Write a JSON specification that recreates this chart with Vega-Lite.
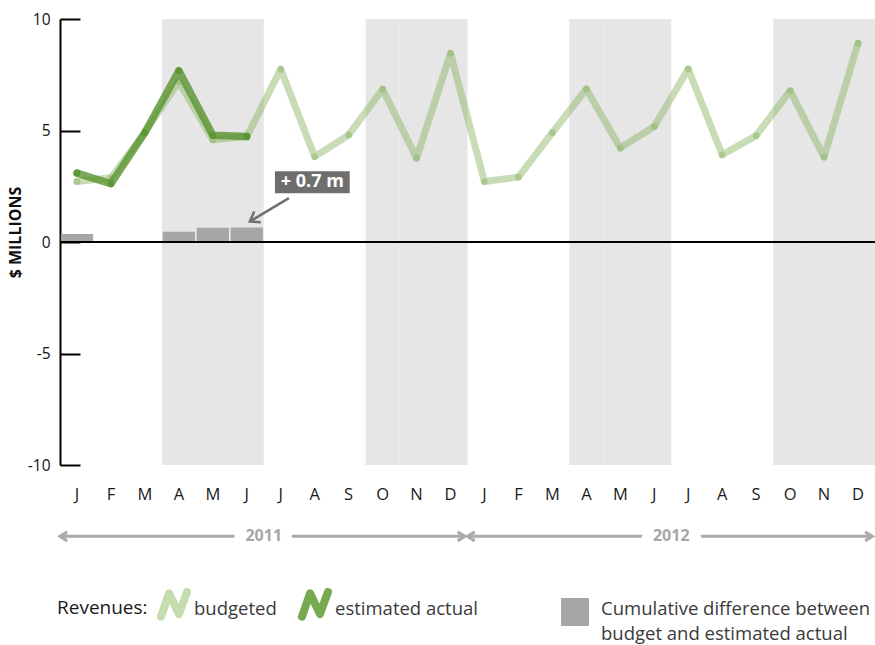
{
  "$schema": "https://vega.github.io/schema/vega-lite/v6.json",
  "width": 815,
  "height": 446,
  "autosize": {"type": "none"},
  "padding": {"left": 60, "top": 19, "right": 0, "bottom": 180},
  "background": "white",
  "config": {"font": "Open Sans", "view": {"stroke": null}},
  "datasets": {
    "revenue": [
      {"m": "2011-01", "series": "budgeted", "value": 2.71},
      {"m": "2011-02", "series": "budgeted", "value": 2.88},
      {"m": "2011-03", "series": "budgeted", "value": 4.91},
      {"m": "2011-04", "series": "budgeted", "value": 7.19},
      {"m": "2011-05", "series": "budgeted", "value": 4.58},
      {"m": "2011-06", "series": "budgeted", "value": 4.72},
      {"m": "2011-07", "series": "budgeted", "value": 7.75},
      {"m": "2011-08", "series": "budgeted", "value": 3.83},
      {"m": "2011-09", "series": "budgeted", "value": 4.8},
      {"m": "2011-10", "series": "budgeted", "value": 6.85},
      {"m": "2011-11", "series": "budgeted", "value": 3.76},
      {"m": "2011-12", "series": "budgeted", "value": 8.46},
      {"m": "2012-01", "series": "budgeted", "value": 2.71},
      {"m": "2012-02", "series": "budgeted", "value": 2.91},
      {"m": "2012-03", "series": "budgeted", "value": 4.91},
      {"m": "2012-04", "series": "budgeted", "value": 6.86},
      {"m": "2012-05", "series": "budgeted", "value": 4.22},
      {"m": "2012-06", "series": "budgeted", "value": 5.18},
      {"m": "2012-07", "series": "budgeted", "value": 7.76},
      {"m": "2012-08", "series": "budgeted", "value": 3.91},
      {"m": "2012-09", "series": "budgeted", "value": 4.77},
      {"m": "2012-10", "series": "budgeted", "value": 6.78},
      {"m": "2012-11", "series": "budgeted", "value": 3.81},
      {"m": "2012-12", "series": "budgeted", "value": 8.91},
      {"m": "2011-01", "series": "estimated actual", "value": 3.09},
      {"m": "2011-02", "series": "estimated actual", "value": 2.61},
      {"m": "2011-03", "series": "estimated actual", "value": 4.91},
      {"m": "2011-04", "series": "estimated actual", "value": 7.68},
      {"m": "2011-05", "series": "estimated actual", "value": 4.79},
      {"m": "2011-06", "series": "estimated actual", "value": 4.73}
    ],
    "cumdiff": [
      {"m": "2011-01", "cum": 0.36, "kind": "Cumulative difference between budget and estimated actual"},
      {"m": "2011-04", "cum": 0.46, "kind": "Cumulative difference between budget and estimated actual"},
      {"m": "2011-05", "cum": 0.64, "kind": "Cumulative difference between budget and estimated actual"},
      {"m": "2011-06", "cum": 0.65, "kind": "Cumulative difference between budget and estimated actual"}
    ],
    "quarters": [
      {"m": "2011-04"}, {"m": "2011-05"}, {"m": "2011-06"},
      {"m": "2011-10"}, {"m": "2011-11"}, {"m": "2011-12"},
      {"m": "2012-04"}, {"m": "2012-05"}, {"m": "2012-06"},
      {"m": "2012-10"}, {"m": "2012-11"}, {"m": "2012-12"}
    ],
    "years": [
      {"year": "2011", "first": "2011-01", "mid": "2011-07", "last": "2011-12"},
      {"year": "2012", "first": "2012-01", "mid": "2012-07", "last": "2012-12"}
    ],
    "note": [{"label": "+ 0.7 m", "target": "2011-06"}],
    "baseline": [{"level": 0}]
  },
  "layer": [
    {
      "data": {"name": "quarters"},
      "mark": {"type": "rect", "color": "#e6e6e6"},
      "encoding": {
        "x": {
          "field": "m", "type": "ordinal",
          "scale": {
            "domain": ["2011-01","2011-02","2011-03","2011-04","2011-05","2011-06","2011-07","2011-08","2011-09","2011-10","2011-11","2011-12","2012-01","2012-02","2012-03","2012-04","2012-05","2012-06","2012-07","2012-08","2012-09","2012-10","2012-11","2012-12"],
            "paddingInner": 0, "paddingOuter": 0
          },
          "axis": {
            "title": null, "domain": false, "ticks": false, "labelAngle": 0,
            "labelPadding": 21, "labelFontSize": 16.5, "labelColor": "#1a1a1a",
            "labelExpr": "['J','F','M','A','M','J','J','A','S','O','N','D'][toNumber(substring(datum.value,5,7))-1]"
          }
        },
        "y": {
          "datum": -10, "type": "quantitative",
          "scale": {"domain": [-10, 10], "nice": false},
          "axis": {
            "title": "$ MILLIONS", "values": [-10, -5, 0, 5, 10], "grid": false,
            "labelExpr": "'' + datum.value",
            "domainColor": "#000", "domainWidth": 2, "tickColor": "#000", "tickWidth": 2,
            "tickSize": -20, "labelPadding": 30, "labelFontSize": 15.5, "labelColor": "#111",
            "titleFontSize": 16, "titleFontWeight": "bold", "titleColor": "#111",
            "titleX": -37, "titleY": 213
          }
        },
        "y2": {"datum": 10}
      }
    },
    {
      "data": {"name": "cumdiff"},
      "mark": {"type": "bar", "width": {"band": 0.95}},
      "encoding": {
        "x": {"field": "m", "type": "ordinal"},
        "y": {"field": "cum", "type": "quantitative"},
        "fill": {
          "field": "kind", "type": "nominal",
          "scale": {"range": ["#a6a6a6"]},
          "legend": {
            "title": null, "orient": "none", "legendX": 501, "legendY": 579,
            "symbolType": "square", "symbolSize": 784, "symbolStrokeWidth": 0,
            "labelFontSize": 18.5, "labelColor": "#3a3a3a", "labelOffset": 12, "labelLimit": 400,
            "labelExpr": "['Cumulative difference between', 'budget and estimated actual']",
            "encode": {
              "labels": {"update": {"lineHeight": {"value": 25}, "dy": {"value": -3}}}
            }
          }
        }
      }
    },
    {
      "data": {"name": "baseline"},
      "mark": {"type": "rule", "color": "#000", "strokeWidth": 2},
      "encoding": {"y": {"field": "level", "type": "quantitative"}}
    },
    {
      "data": {"name": "revenue"},
      "mark": {"type": "line", "opacity": 0, "strokeWidth": 1},
      "encoding": {
        "x": {"field": "m", "type": "ordinal"},
        "y": {"field": "value", "type": "quantitative"},
        "stroke": {
          "field": "series", "type": "nominal",
          "scale": {"domain": ["budgeted", "estimated actual"], "range": ["#c5dcaf", "#77aa50"]},
          "legend": {
            "title": "Revenues:", "orient": "none", "legendX": -3, "legendY": 568,
            "direction": "horizontal", "titleOrient": "left", "titleFontSize": 19,
            "titleFontWeight": "normal", "titleColor": "#1a1a1a", "titlePadding": 9,
            "symbolType": "M-1,0.95L-0.38,-0.85L0.38,0.75L1,-0.95", "symbolSize": 676,
            "symbolStrokeWidth": 8, "symbolFillColor": "transparent", "symbolOpacity": 1,
            "labelFontSize": 18.5, "labelColor": "#3a3a3a", "labelOffset": 3, "labelLimit": 300,
            "columnPadding": 21,
            "encode": {
              "symbols": {"update": {
                "strokeCap": {"value": "round"}, "strokeJoin": {"value": "round"}
              }},
              "labels": {"update": {"dy": {"value": 5}}},
              "title": {"update": {"dy": {"value": 4}}}
            }
          }
        }
      }
    },
    {
      "data": {"name": "revenue"},
      "transform": [{"filter": "datum.series == 'budgeted'"}],
      "mark": {"type": "line", "color": "#86b25e", "strokeWidth": 7, "strokeCap": "round", "strokeJoin": "round", "opacity": 0.45},
      "encoding": {
        "x": {"field": "m", "type": "ordinal"},
        "y": {"field": "value", "type": "quantitative"}
      }
    },
    {
      "data": {"name": "revenue"},
      "transform": [{"filter": "datum.series == 'budgeted'"}],
      "mark": {"type": "point", "shape": "circle", "filled": false, "color": "#86b25e", "size": 10, "strokeWidth": 3.6, "opacity": 0.45},
      "encoding": {
        "x": {"field": "m", "type": "ordinal"},
        "y": {"field": "value", "type": "quantitative"}
      }
    },
    {
      "data": {"name": "revenue"},
      "transform": [{"filter": "datum.series == 'estimated actual'"}],
      "mark": {"type": "line", "color": "#5a9330", "strokeWidth": 7.5, "strokeCap": "round", "strokeJoin": "round", "opacity": 0.8},
      "encoding": {
        "x": {"field": "m", "type": "ordinal"},
        "y": {"field": "value", "type": "quantitative"}
      }
    },
    {
      "data": {"name": "revenue"},
      "transform": [{"filter": "datum.series == 'estimated actual'"}],
      "mark": {"type": "point", "shape": "circle", "filled": false, "color": "#5a9330", "size": 10, "strokeWidth": 3.8, "opacity": 0.8},
      "encoding": {
        "x": {"field": "m", "type": "ordinal"},
        "y": {"field": "value", "type": "quantitative"}
      }
    },
    {
      "data": {"name": "note"},
      "mark": {"type": "point", "shape": "M-1.7,-0.5H1.7V0.5H-1.7Z", "size": 1936, "filled": true, "color": "#6e6e6e", "opacity": 1, "strokeWidth": 0},
      "encoding": {
        "x": {"datum": "2011-08", "type": "ordinal", "bandPosition": 0.43},
        "y": {"datum": 2.68, "type": "quantitative"}
      }
    },
    {
      "data": {"name": "note"},
      "mark": {"type": "text", "color": "white", "fontSize": 18, "fontWeight": "bold", "align": "center", "baseline": "middle"},
      "encoding": {
        "x": {"datum": "2011-08", "type": "ordinal", "bandPosition": 0.43},
        "y": {"datum": 2.68, "type": "quantitative"},
        "text": {"field": "label"}
      }
    },
    {
      "data": {"name": "note"},
      "mark": {"type": "rule", "color": "#707070", "strokeWidth": 2.5},
      "encoding": {
        "x": {"datum": "2011-07", "type": "ordinal", "bandPosition": 0.74},
        "x2": {"datum": "2011-06", "bandPosition": 0.59},
        "y": {"datum": 1.97, "type": "quantitative"},
        "y2": {"datum": 0.92}
      }
    },
    {
      "data": {"name": "note"},
      "mark": {"type": "point", "shape": "M-1,-0.7L0,0L-1,0.7", "size": 324, "angle": 148.7, "filled": false, "color": "#707070", "strokeWidth": 2.5, "opacity": 1},
      "encoding": {
        "x": {"field": "target", "type": "ordinal", "bandPosition": 0.59},
        "y": {"datum": 0.92, "type": "quantitative"}
      }
    },
    {
      "data": {"name": "years"},
      "mark": {"type": "rule", "color": "#aaaaaa", "strokeWidth": 3},
      "encoding": {
        "x": {"field": "first", "type": "ordinal", "bandPosition": 0},
        "x2": {"field": "last", "bandPosition": 0.92},
        "y": {"datum": -13.2, "type": "quantitative"}
      }
    },
    {
      "data": {"name": "years"},
      "mark": {"type": "point", "shape": "M1.6,-1L0,0L1.6,1", "size": 81, "filled": false, "color": "#aaaaaa", "strokeWidth": 3, "opacity": 1},
      "encoding": {
        "x": {"field": "first", "type": "ordinal", "bandPosition": 0},
        "y": {"datum": -13.2, "type": "quantitative"}
      }
    },
    {
      "data": {"name": "years"},
      "mark": {"type": "point", "shape": "M-1.6,-1L0,0L-1.6,1", "size": 81, "filled": false, "color": "#aaaaaa", "strokeWidth": 3, "opacity": 1},
      "encoding": {
        "x": {"field": "last", "type": "ordinal", "bandPosition": 0.92},
        "y": {"datum": -13.2, "type": "quantitative"}
      }
    },
    {
      "data": {"name": "years"},
      "mark": {"type": "text", "fontSize": 16, "fontWeight": "bold", "color": "white", "stroke": "white", "strokeWidth": 24, "strokeJoin": "round", "align": "center", "baseline": "middle"},
      "encoding": {
        "x": {"field": "mid", "type": "ordinal", "bandPosition": 0},
        "y": {"datum": -13.2, "type": "quantitative"},
        "text": {"field": "year"}
      }
    },
    {
      "data": {"name": "years"},
      "mark": {"type": "text", "fontSize": 16, "fontWeight": "bold", "color": "#a6a6a6", "align": "center", "baseline": "middle"},
      "encoding": {
        "x": {"field": "mid", "type": "ordinal", "bandPosition": 0},
        "y": {"datum": -13.2, "type": "quantitative"},
        "text": {"field": "year"}
      }
    }
  ]
}
